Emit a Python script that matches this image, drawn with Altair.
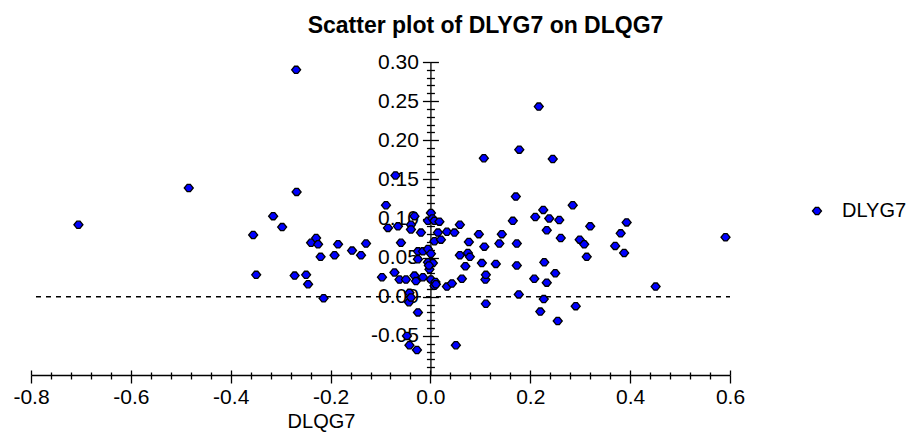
import altair as alt
import pandas as pd

# DLQG7 (x) and DLYG7 (y) values
dlqg7 = [
    -0.705, -0.484, -0.355, -0.349, -0.315, -0.297, -0.272, -0.269, -0.268, -0.249,
    -0.245, -0.239, -0.229, -0.225, -0.220, -0.214, -0.185, -0.192, -0.157, -0.139,
    -0.129, -0.097, -0.089, -0.085, -0.072, -0.070, -0.065, -0.062, -0.059, -0.049,
    -0.047, -0.043, -0.042, -0.042, -0.039, -0.039, -0.039, -0.032, -0.032, -0.029,
    -0.027, -0.025, -0.025, -0.025, -0.019, -0.015, -0.015, -0.005, -0.005, -0.005,
    -0.002, 0.001, 0.001, 0.001, 0.004, 0.008, 0.008, 0.008, 0.010, 0.005,
    0.011, 0.015, 0.021, 0.033, 0.033, 0.043, 0.048, 0.051, 0.059, 0.059,
    0.063, 0.070, 0.075, 0.077, 0.079, 0.097, 0.103, 0.107, 0.108, 0.110,
    0.111, 0.111, 0.131, 0.138, 0.143, 0.165, 0.171, 0.173, 0.173, 0.177,
    0.178, 0.208, 0.210, 0.217, 0.220, 0.226, 0.227, 0.228, 0.233, 0.233,
    0.238, 0.245, 0.250, 0.255, 0.258, 0.261, 0.285, 0.291, 0.299, 0.308,
    0.313, 0.320, 0.370, 0.381, 0.388, 0.393, 0.451, 0.591, 0.018, -0.003,
]
dlyg7 = [
    0.092, 0.139, 0.079, 0.028, 0.103, 0.089, 0.027, 0.290, 0.134, 0.028,
    0.016, 0.069, 0.075, 0.067, 0.051, -0.002, 0.067, 0.053, 0.059, 0.053,
    0.068, 0.025, 0.117, 0.088, 0.031, 0.155, 0.090, 0.022, 0.069, 0.022,
    -0.050, -0.007, -0.062, 0.005, -0.001, 0.092, 0.086, 0.103, 0.027, 0.020,
    -0.068, -0.020, 0.058, 0.048, 0.082, 0.058, 0.025, 0.061, 0.044, 0.097,
    0.035, 0.107, 0.022, 0.055, 0.100, 0.097, 0.071, 0.014, 0.019, 0.043,
    0.016, 0.082, 0.073, 0.083, 0.013, 0.017, 0.082, -0.062, 0.092, 0.053,
    0.023, 0.039, 0.056, 0.070, 0.051, 0.080, 0.043, 0.177, 0.064, 0.022,
    0.028, -0.009, 0.042, 0.068, 0.080, 0.097, 0.128, 0.068, 0.040, 0.003,
    0.188, 0.023, 0.102, 0.243, -0.019, 0.111, -0.003, 0.044, 0.085, 0.018,
    0.100, 0.176, 0.030, -0.031, 0.098, 0.075, 0.117, -0.012, 0.073, 0.067,
    0.051, 0.090, 0.065, 0.081, 0.056, 0.095, 0.013, 0.076, 0.096, 0.040,
]
series_name = ["DLYG7"]

# tick positions
x_ticks = [round(-0.8 + 0.04 * i, 2) for i in range(36)]
y_ticks = [round(-0.09 + 0.01 * i, 2) for i in range(40)]

# zero reference line
hline_x = [-0.79]
hline_x2 = [0.6]
hline_y = [0.0]

pts = pd.DataFrame({"DLQG7": dlqg7, "DLYG7": dlyg7, "series": series_name * len(dlqg7)})
hl = pd.DataFrame({"x": hline_x, "x2": hline_x2, "y": hline_y})

FONT = "Liberation Sans"
PW, PH = 699, 313
x_dom = [-0.8, 0.6]
y_dom = [-0.1, 0.3]
y_axis_px = (0 - x_dom[0]) / (x_dom[1] - x_dom[0]) * PW

shape = "M-1,0 L-0.35,-0.8 L0.35,-0.8 L1,0 L0.35,0.8 L-0.35,0.8 Z"

x_major = "abs(round(datum.value*100)) % 20 === 0"
y_major = "abs(round(datum.value*100)) % 5 === 0"

def signed(fmt):
    return ("(datum.value < 0 ? '-' + format(-datum.value, '%s') : format(datum.value, '%s'))"
            % (fmt, fmt))

xscale = alt.Scale(domain=x_dom, nice=False, zero=False)
yscale = alt.Scale(domain=y_dom, nice=False, zero=False)

rule = alt.Chart(hl).mark_rule(color="black", strokeDash=[5, 5], strokeWidth=1.3).encode(
    x=alt.X("x:Q", scale=xscale, axis=alt.Axis(
        orient="top", offset=-PH, values=x_ticks, labels=False, title=None,
        domain=False, grid=False, tickColor="black", tickWidth=1.3,
        tickSize={"condition": {"test": x_major, "value": 5}, "value": 3})),
    x2="x2:Q",
    y=alt.Y("y:Q", scale=yscale, axis=alt.Axis(
        orient="right", offset=-(PW - y_axis_px), values=y_ticks, labels=False, title=None,
        domain=False, grid=False, tickColor="black", tickWidth=1.3,
        tickSize={"condition": {"test": y_major, "value": 8}, "value": 4})),
)

points = alt.Chart(pts).mark_point(
    filled=True, shape=shape, size=81, stroke="black", strokeWidth=1.3, opacity=1
).encode(
    x=alt.X("DLQG7:Q", scale=xscale, axis=alt.Axis(
        orient="bottom", values=x_ticks, grid=False, domainColor="black", domainWidth=1.3,
        tickColor="black", tickWidth=1.3,
        tickSize={"condition": {"test": x_major, "value": 8}, "value": 4},
        labelExpr=x_major + " ? " + signed(".1f") + " : ''",
        labelOverlap=False, labelFlush=False, labelFont=FONT, labelFontSize=21,
        labelColor="black", labelPadding=3,
        title="DLQG7", titleFont=FONT, titleFontSize=20, titleFontWeight="normal",
        titleColor="black", titleX=290, titleY=46, titleAlign="center",
        titleBaseline="middle", titleAnchor="start")),
    y=alt.Y("DLYG7:Q", scale=yscale, axis=alt.Axis(
        orient="left", offset=-y_axis_px, values=y_ticks, grid=False,
        domainColor="black", domainWidth=1.3, tickColor="black", tickWidth=1.3,
        tickSize={"condition": {"test": y_major, "value": 8}, "value": 4},
        labelExpr=y_major + " ? " + signed(".2f") + " : ''",
        labelOverlap=False, labelFont=FONT, labelFontSize=21, labelColor="black",
        labelPadding=4, title=None)),
    color=alt.Color("series:N", scale=alt.Scale(range=["#0000ff"]), legend=alt.Legend(
        title=None, orient="none", legendX=776, legendY=139, padding=0,
        symbolType=shape, symbolSize=81, symbolStrokeColor="black",
        symbolStrokeWidth=1.3, symbolFillColor="#0000ff", labelOffset=15,
        labelFont=FONT, labelFontSize=20, labelColor="black")),
)

chart = alt.layer(rule, points).resolve_axis(x="independent", y="independent").properties(
    width=PW, height=PH,
    title=alt.TitleParams("Scatter plot of DLYG7 on DLQG7", font=FONT, fontSize=23,
                          fontWeight="bold", color="black", anchor="middle", frame="group",
                          dx=105, offset=13),
    autosize=alt.AutoSizeParams(type="none"),
    padding={"left": 23, "top": 54, "right": 182, "bottom": 58},
).configure_view(stroke=None)

chart.save("out.html", embed_options={"renderer": "svg", "actions": False})
